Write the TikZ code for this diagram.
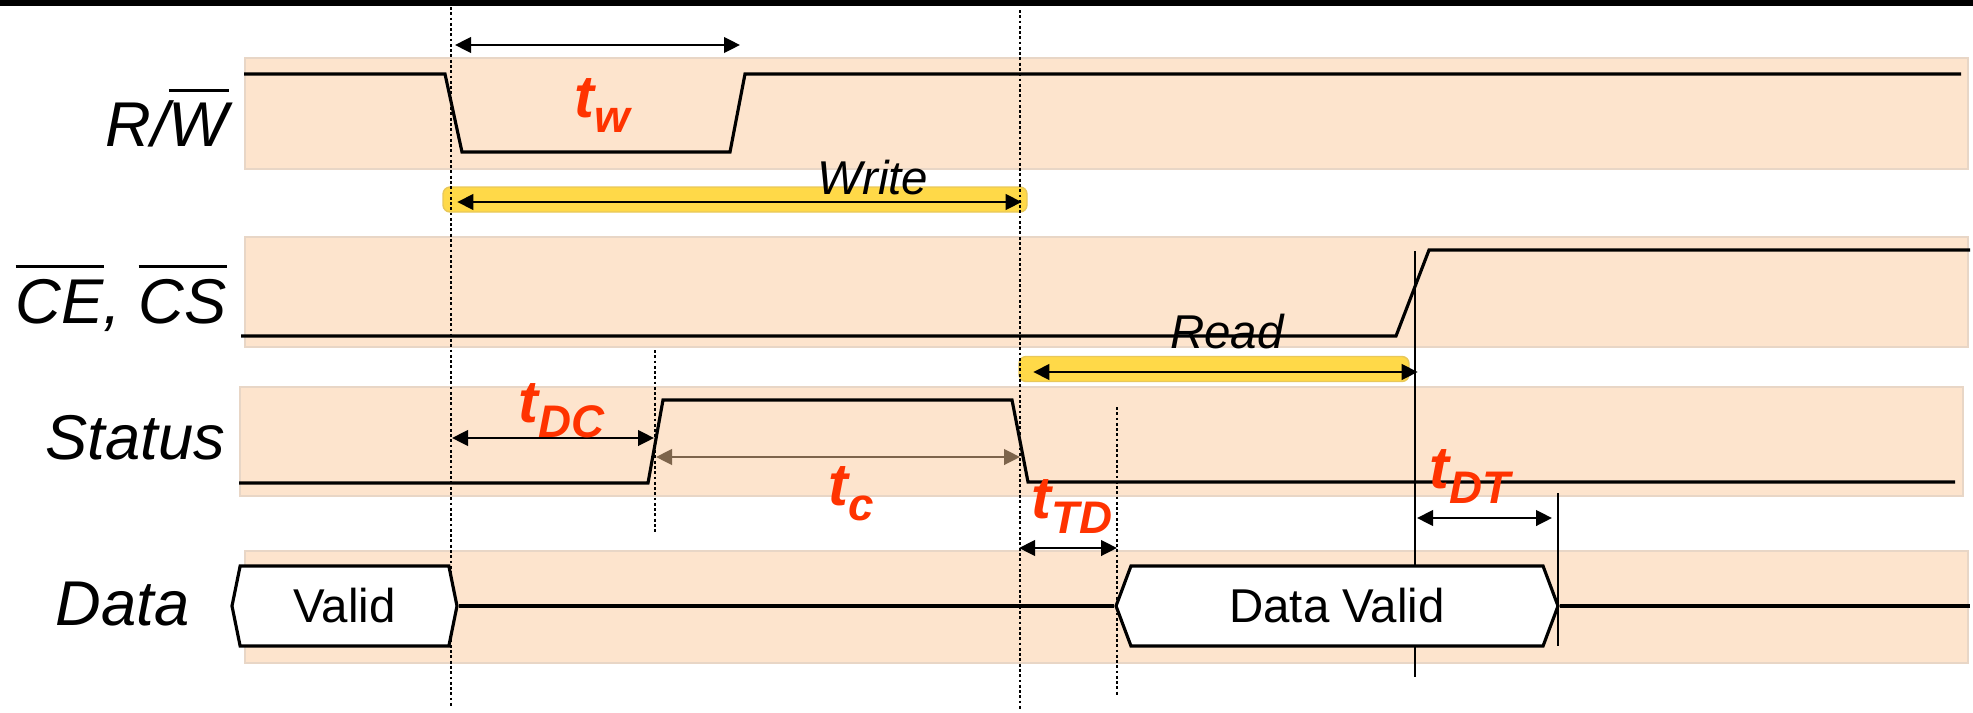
\documentclass[tikz,border=0pt]{standalone}
\usepackage{fontspec}
\setmainfont{Liberation Sans}
\usepackage{xcolor}
\definecolor{bandpeach}{RGB}{253,228,205}
\definecolor{bandedge}{RGB}{232,214,198}
\definecolor{baryellow}{RGB}{255,217,72}
\definecolor{baredge}{RGB}{232,200,90}
\definecolor{timered}{RGB}{255,51,0}
\definecolor{tcbrown}{RGB}{125,100,75}
\usetikzlibrary{positioning,shapes.symbols,arrows.meta}
\newcommand{\ovl}[1]{\leavevmode\vbox{\hrule height 0.9pt\kern 3pt\hbox{#1}}}
\newcommand{\tlab}[1]{t\raisebox{-4.3pt}{\fontsize{13}{13}\selectfont #1}}
\tikzset{
  band/.style={fill=bandpeach,draw=bandedge,line width=0.4pt},
  sig/.style={draw=black,line width=0.9pt,line join=miter},
  sigbox/.style={signal,signal to=east and west,draw=black,line width=0.9pt,
    fill=white,inner sep=0pt,minimum height=8mm,font=\fontsize{13.5}{14}\selectfont},
  signame/.style={anchor=base west,inner sep=0pt,font=\fontsize{18}{20}\selectfont\itshape},
  tname/.style={anchor=base west,inner sep=0pt,text=timered,
    font=\fontsize{17}{18}\selectfont\bfseries\itshape},
  barbox/.style={rectangle,rounded corners=2pt,fill=baryellow,draw=baredge,
    line width=0.4pt,minimum height=2.5mm,inner sep=0pt},
  barlab/.style={anchor=base,inner sep=0pt,font=\fontsize{13.5}{14}\selectfont\itshape},
  dim/.style={{Triangle[length=1.6mm,width=1.55mm]}-{Triangle[length=1.6mm,width=1.55mm]},line width=0.75pt},
  guide/.style={dash pattern=on 0.8pt off 0.7pt,line width=0.75pt},
  edgeline/.style={line width=0.7pt},
}
\begin{document}
\begin{tikzpicture}[x=0.1mm,y=-0.1mm]
  \useasboundingbox (0,0) rectangle (1973,712);
  \fill[black] (0,0) rectangle (1973,6);
  % --- bands ---
  \foreach \xa/\ya/\xb/\yb in {245/58/1968/169,245/237/1968/347,240/387/1963/496,245/551/1968/663}{
    \draw[band] (\xa,\ya) rectangle (\xb,\yb);}
  % --- write / read bars ---
  \node[barbox,minimum width=58.4mm] (WB) at (735,199.5) {};
  \node[barbox,minimum width=39mm] (RB) at (1214,369) {};
  \draw[dim] ([xshift=1.5mm,yshift=-0.25mm]WB.west) -- ([xshift=-0.6mm,yshift=-0.25mm]WB.east);
  \draw[dim] ([xshift=1.5mm,yshift=-0.3mm]RB.west) -- ([xshift=0.8mm,yshift=-0.3mm]RB.east);
  % --- guide lines ---
  \foreach \n/\x/\ya/\yb in {ga/451/7/708,gb/1020/10/710,gc/655/350/532,gd/1117/407/695}{
    \coordinate (\n1) at (\x,\ya);
    \coordinate (\n2) at (\x,\yb);
    \draw[guide] (\n1) -- (\n2);}
  \foreach \n/\x/\ya/\yb in {ea/1415/251/677,eb/1558/493/646}{
    \coordinate (\n1) at (\x,\ya);
    \coordinate (\n2) at (\x,\yb);
    \draw[edgeline] (\n1) -- (\n2);}
  % --- waveforms ---
  \draw[sig] (244,74) -- (445,74) -- (462,152) -- (730,152) -- (745,74) -- (1961,74);
  \draw[sig] (241,336) -- (1396,336) -- (1429,250) -- (1970,250);
  \draw[sig] (239,483) -- (648,483) -- (663,400) -- (1012,400) -- (1028,482) -- (1955,482);
  \node[sigbox,minimum width=22.5mm,signal pointer angle=157] (VA) at (344.5,606) {Valid};
  \node[sigbox,minimum width=44.2mm,signal pointer angle=139] (DV) at (1337,606) {Data Valid};
  \coordinate (DE) at (1970,606);
  \draw[sig] (VA.east) -- (DV.west);
  \draw[sig] (DV.east) -- (DE);
  % --- signal names ---
  \node[signame] (RW) at (105,146) {R/\ovl{W}};
  \node[signame] (CE) at (15,323) {\ovl{CE}, \ovl{CS}};
  \node[signame] (ST) at (45,459) {Status};
  \node[signame] (DA) at (55,625) {Data};
  \node[barlab] (WL) at (873,194) {Write};
  \node[barlab] (RL) at (1227,348) {Read};
  % --- timing arrows ---
  \coordinate (tw1) at (455,45);   \coordinate (tw2) at (740,45);
  \coordinate (tdc1) at (452,438); \coordinate (tdc2) at (654,438);
  \coordinate (tc1) at (656,457);  \coordinate (tc2) at (1020,457);
  \coordinate (ttd1) at (1019,548); \coordinate (ttd2) at (1117,548);
  \coordinate (tdt1) at (1417,518); \coordinate (tdt2) at (1552,518);
  \foreach \n in {tw,tdc,ttd,tdt}{\draw[dim] (\n1) -- (\n2);}
  \draw[dim,tcbrown] (tc1) -- (tc2);
  \node[tname] (TW) at (574,117) {\tlab{w}};
  \node[tname] (TDC) at (518,422) {\tlab{DC}};
  \node[tname] (TC) at (828,505) {\tlab{c}};
  \node[tname] (TTD) at (1031,518) {\tlab{TD}};
  \node[tname] (TDT) at (1429,488) {\tlab{DT}};
\end{tikzpicture}
\end{document}
